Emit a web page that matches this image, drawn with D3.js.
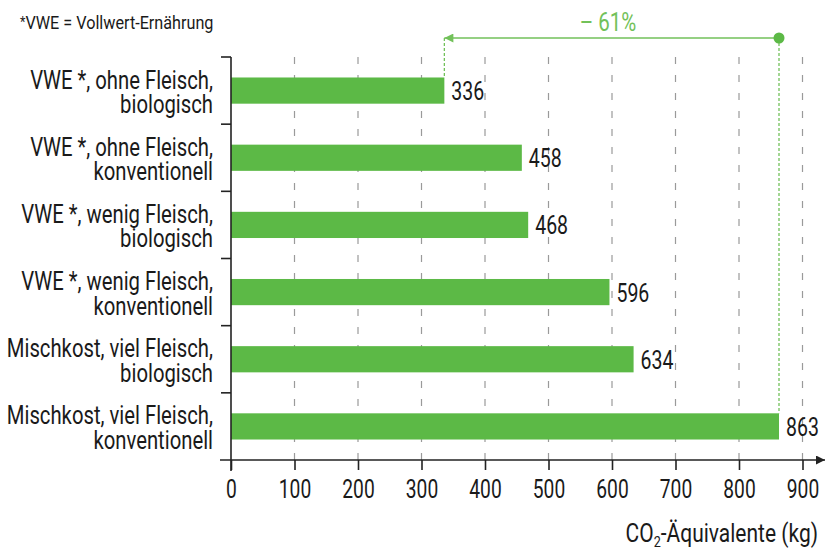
<!DOCTYPE html>
<html>
<head>
<meta charset="utf-8">
<script src="https://cdn.jsdelivr.net/npm/d3@7"></script>
<style>
  body { margin: 0; background: #fff; }
  svg text { font-family: "Roboto", "Liberation Sans", sans-serif; fill: #1a1a1a; }
</style>
</head>
<body>
<div id="chart"></div>
<script>
// data
const categories = [
  ["VWE *, ohne Fleisch,", "biologisch"],
  ["VWE *, ohne Fleisch,", "konventionell"],
  ["VWE *, wenig Fleisch,", "biologisch"],
  ["VWE *, wenig Fleisch,", "konventionell"],
  ["Mischkost, viel Fleisch,", "biologisch"],
  ["Mischkost, viel Fleisch,", "konventionell"]
];
const values = [336, 458, 468, 596, 634, 863];
const xTicks = [0, 100, 200, 300, 400, 500, 600, 700, 800, 900];
const changeLabel = "\u2013 61%";
const footnote = "VWE = Vollwert-Ernährung";

const W = 826, H = 554;
const green = "#5cb946", greenLight = "#72c15a";
const SQ = 0.78; // horizontal squeeze to fake the condensed face

const svg = d3.select("#chart").append("svg").attr("width", W).attr("height", H);

// text in a squeezed group, so the normal face looks condensed
function ctext(parent, px, py, size, k) {
  return parent.append("g").attr("transform", `translate(${px},${py}) scale(${k || SQ},1)`)
    .append("text").style("font-size", size + "px");
}

const x = d3.scaleLinear().domain([0, 900]).range([231, 802.5]);
const y = d3.scaleBand().domain(d3.range(categories.length)).range([57, 460])
  .paddingInner(0.61).paddingOuter(0.305);

const defs = svg.append("defs");
defs.append("marker").attr("id", "arrowGreen")
  .attr("viewBox", "0 0 10 10").attr("refX", 10).attr("refY", 5)
  .attr("markerWidth", 12).attr("markerHeight", 9).attr("orient", "auto")
  .attr("markerUnits", "userSpaceOnUse")
  .append("path").attr("d", "M0,0 L10,5 L0,10 Z").attr("fill", greenLight);
defs.append("marker").attr("id", "arrowBlack")
  .attr("viewBox", "0 0 10 10").attr("refX", 10).attr("refY", 5)
  .attr("markerWidth", 10).attr("markerHeight", 9).attr("orient", "auto")
  .attr("markerUnits", "userSpaceOnUse")
  .append("path").attr("d", "M0,0 L10,5 L0,10 Z").attr("fill", "#222");

// dashed gridlines
svg.append("g").selectAll("line").data(xTicks.slice(1)).enter().append("line")
  .attr("x1", d => x(d)).attr("x2", d => x(d))
  .attr("y1", 57).attr("y2", 460)
  .attr("stroke", "#9a9a9a").attr("stroke-width", 1.2).attr("stroke-dasharray", "7,11");

// bars
svg.append("g").selectAll("rect").data(values).enter().append("rect")
  .attr("x", x(0)).attr("y", (d, i) => y(i))
  .attr("width", d => x(d) - x(0)).attr("height", y.bandwidth())
  .attr("fill", green);

// value labels
const valG = svg.append("g");
values.forEach((v, i) => {
  ctext(valG, x(v) + 7, y(i) + y.bandwidth() / 2 + 9.5, 26, 0.75).text(v);
});

// category labels, two lines, right aligned
const labG = svg.append("g");
categories.forEach((c, i) => {
  const cy = y(i) + y.bandwidth() / 2;
  ctext(labG, 213, cy - 2, 26).attr("text-anchor", "end").text(c[0]);
  ctext(labG, 213, cy + 22.5, 26).attr("text-anchor", "end").text(c[1]);
});

// y axis with category boundary ticks
const step = y.step();
const bounds = d3.range(categories.length).map(i => y(i) - (step - y.bandwidth()) / 2);
svg.append("line").attr("x1", 231).attr("x2", 231).attr("y1", 57).attr("y2", 471)
  .attr("stroke", "#222").attr("stroke-width", 1.6);
svg.append("g").selectAll("line").data(bounds).enter().append("line")
  .attr("x1", 221).attr("x2", 231).attr("y1", d => d).attr("y2", d => d)
  .attr("stroke", "#222").attr("stroke-width", 1.6);

// x axis
const xAxis = svg.append("g").attr("transform", "translate(0,460)")
  .call(d3.axisBottom(x).tickValues(xTicks).tickSize(10).tickPadding(10));
xAxis.select(".domain").remove();
xAxis.selectAll(".tick line").attr("stroke", "#222").attr("stroke-width", 1.6);
xAxis.selectAll(".tick text").style("font-size", "26px").attr("fill", "#1a1a1a")
  .style("font-family", "Roboto, sans-serif")
  .attr("transform", "scale(0.74,1)");
svg.append("line").attr("x1", 220).attr("x2", 825).attr("y1", 460).attr("y2", 460)
  .attr("stroke", "#222").attr("stroke-width", 1.6).attr("marker-end", "url(#arrowBlack)");

// axis title
const title = ctext(svg, 818, 542, 25, 0.84).attr("text-anchor", "end");
title.append("tspan").text("CO");
title.append("tspan").attr("dy", 5).style("font-size", "15px").text("2");
title.append("tspan").attr("dy", -5).text("-Äquivalente (kg)");

// change annotation
const yArrow = 38;
const lo = d3.min(values), hi = d3.max(values);
const loIdx = values.indexOf(lo), hiIdx = values.indexOf(hi);
svg.append("line").attr("x1", x(lo)).attr("x2", x(lo)).attr("y1", yArrow).attr("y2", y(loIdx))
  .attr("stroke", greenLight).attr("stroke-width", 1.3).attr("stroke-dasharray", "3,2");
svg.append("line").attr("x1", x(hi)).attr("x2", x(hi)).attr("y1", yArrow).attr("y2", y(hiIdx))
  .attr("stroke", greenLight).attr("stroke-width", 1.3).attr("stroke-dasharray", "3,2");
svg.append("line").attr("x1", x(hi)).attr("x2", x(lo)).attr("y1", yArrow).attr("y2", yArrow)
  .attr("stroke", greenLight).attr("stroke-width", 1.5).attr("marker-end", "url(#arrowGreen)");
svg.append("circle").attr("cx", x(hi)).attr("cy", yArrow).attr("r", 5.5).attr("fill", green);
ctext(svg, 608, 31, 25, 0.82).attr("text-anchor", "middle")
  .style("fill", greenLight).text(changeLabel);

// footnote
const fn = ctext(svg, 20, 29, 18, 0.9);
fn.append("tspan").style("font-size", "14px").attr("dy", -2).text("*");
fn.append("tspan").attr("dy", 2).text(footnote);
</script>
</body>
</html>
